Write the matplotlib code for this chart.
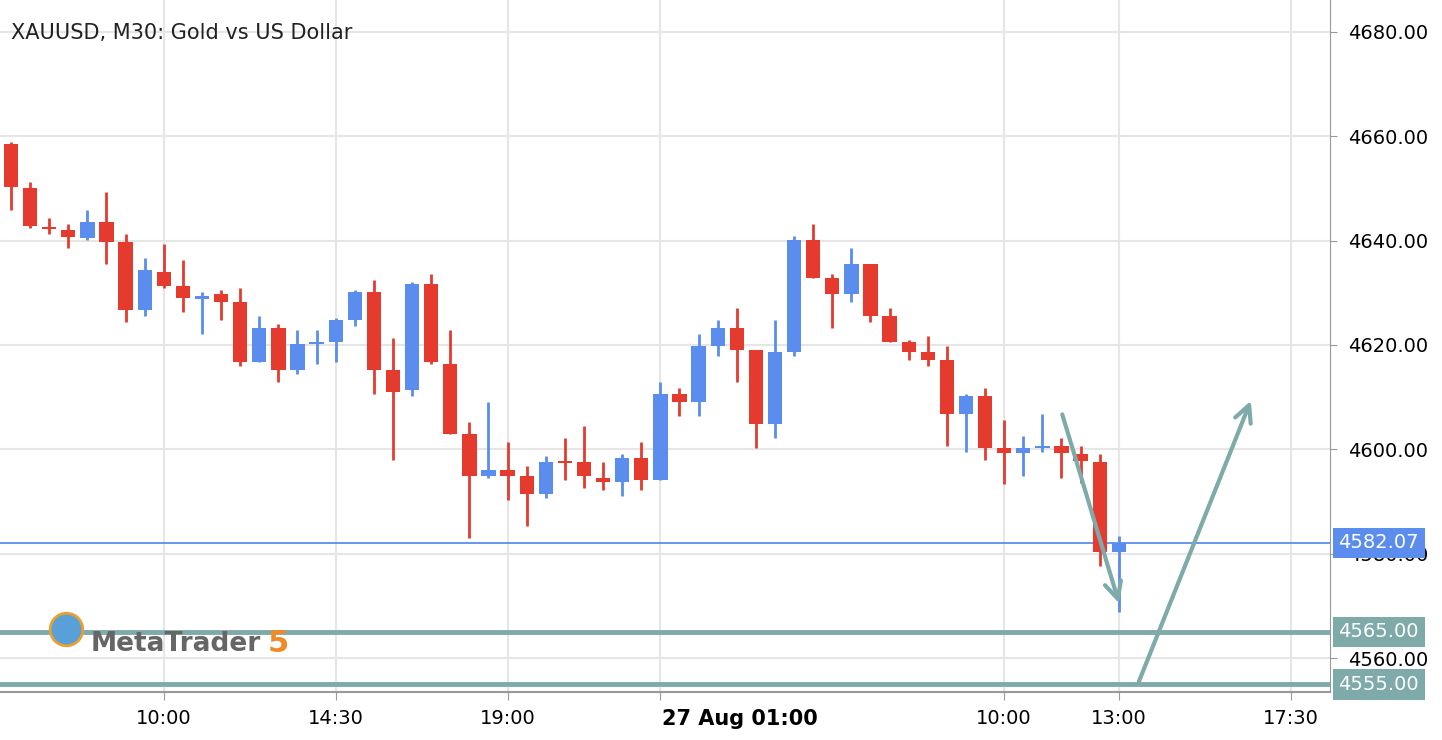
import numpy as np
import matplotlib.pyplot as plt

# OHLC, 30 minute candles, 26 Aug 06:00 .. 27 Aug 13:00
opens = [4658.5, 4650.1, 4642.6, 4642.0, 4640.5, 4643.6, 4639.7, 4626.7, 4634.0, 4631.3,
         4628.8, 4629.8, 4628.2, 4616.7, 4623.3, 4615.2, 4620.2, 4620.6, 4624.8, 4630.2,
         4615.2, 4611.4, 4631.7, 4616.4, 4603.0, 4594.9, 4596.0, 4594.9, 4591.4, 4597.6,
         4597.6, 4594.5, 4593.7, 4598.3, 4594.1, 4610.6, 4609.1, 4619.8, 4623.3, 4619.0,
         4604.9, 4618.7, 4640.1, 4632.8, 4629.8, 4635.5, 4625.6, 4620.6, 4618.7, 4617.1,
         4606.8, 4610.2, 4600.3, 4599.3, 4600.3, 4600.6, 4599.1, 4597.6, 4580.3]
highs = [4658.9, 4651.2, 4644.3, 4643.2, 4645.9, 4649.3, 4641.3, 4636.7, 4639.4, 4636.3,
         4630.2, 4630.5, 4630.9, 4625.6, 4624.0, 4622.9, 4622.9, 4625.2, 4630.5, 4632.5,
         4621.3, 4632.1, 4633.6, 4622.9, 4605.2, 4609.1, 4601.4, 4596.8, 4598.7, 4602.2,
         4604.5, 4597.6, 4599.1, 4601.4, 4612.9, 4611.8, 4622.1, 4624.8, 4627.1, 4619.0,
         4624.8, 4640.9, 4643.2, 4633.6, 4638.6, 4635.5, 4627.1, 4621.0, 4621.7, 4619.8,
         4610.6, 4611.8, 4605.6, 4602.6, 4606.8, 4602.2, 4600.6, 4599.1, 4583.4]
lows = [4645.9, 4642.4, 4641.3, 4638.6, 4640.1, 4635.5, 4624.4, 4625.6, 4630.9, 4626.3,
        4622.1, 4624.8, 4616.0, 4616.7, 4612.9, 4614.4, 4616.4, 4616.7, 4623.6, 4610.6,
        4598.0, 4610.2, 4616.4, 4603.0, 4583.0, 4594.5, 4590.3, 4585.3, 4590.7, 4594.1,
        4592.6, 4592.2, 4591.1, 4592.2, 4594.1, 4606.4, 4606.4, 4617.9, 4612.9, 4600.3,
        4602.2, 4617.9, 4632.8, 4623.3, 4628.2, 4624.4, 4620.6, 4617.1, 4616.0, 4600.6,
        4599.5, 4598.0, 4593.4, 4594.9, 4599.5, 4594.5, 4593.6, 4577.6, 4568.8]
closes = [4650.3, 4642.8, 4642.2, 4640.7, 4643.6, 4639.7, 4626.7, 4634.4, 4631.3, 4629.0,
          4629.4, 4628.2, 4616.7, 4623.3, 4615.2, 4620.2, 4620.6, 4624.8, 4630.2, 4615.2,
          4611.0, 4631.7, 4616.7, 4603.0, 4594.9, 4596.0, 4594.9, 4591.4, 4597.6, 4597.4,
          4594.9, 4593.7, 4598.3, 4594.1, 4610.6, 4609.1, 4619.8, 4623.3, 4619.0, 4604.9,
          4618.7, 4640.1, 4632.8, 4629.8, 4635.5, 4625.6, 4620.6, 4618.7, 4617.1, 4606.8,
          4610.2, 4600.3, 4599.3, 4600.3, 4600.6, 4599.3, 4597.8, 4580.3, 4582.07]

time_ticks = [8, 17, 26, 34, 52, 58, 67]
time_labels = ["10:00", "14:30", "19:00", "27 Aug 01:00", "10:00", "13:00", "17:30"]
price_ticks = [4560, 4580, 4600, 4620, 4640, 4660, 4680]

last_price = 4582.07
levels = [4565.00, 4555.00]

# drawn arrows (candle index, price)
arrow_down = [(55.0, 4607.2), (58.06, 4570.0)]
arrow_up = [(59.0, 4555.0), (64.97, 4609.8)]

RED = "#e53b2f"
BLUE = "#5a8ded"
TEAL = "#7faaaa"

fig = plt.figure(figsize=(14.42, 7.40), dpi=100)
ax = fig.add_axes([0, 48/740, 1330/1442, 692/740])
ax.set_xlim(-0.576, 69.06)
ax.set_ylim(4553.5, 4686.1)

x = np.arange(len(opens))
o = np.array(opens); c = np.array(closes)
cols = [BLUE if cc >= oo else RED for oo, cc in zip(opens, closes)]
ax.vlines(x, lows, highs, colors=cols, linewidth=2, zorder=3)
body = np.maximum(np.abs(c - o), 0.4)
ax.bar(x, body, bottom=np.minimum(o, c), width=0.75, color=cols, zorder=3)

ax.grid(True, color="#e6e6e6", linewidth=1.5)
ax.set_axisbelow(True)
ax.set_xticks(time_ticks)
ax.set_xticklabels([])
for t, lab in zip(time_ticks, time_labels):
    if "Aug" in lab:
        ax.text(t + 0.1, -0.025, lab, transform=ax.get_xaxis_transform(), ha="left",
                va="top", fontsize=15, fontweight="bold")
    else:
        ax.text(t, -0.025, lab, transform=ax.get_xaxis_transform(), ha="center",
                va="top", fontsize=14)
ax.tick_params(axis="x", length=6, color="#999999")

ax.yaxis.tick_right()
ax.set_yticks(price_ticks)
ax.set_yticklabels(["%.2f" % p for p in price_ticks], fontsize=14)
ax.tick_params(axis="y", length=5, color="#999999", pad=8)
for s in ["top", "left"]:
    ax.spines[s].set_visible(False)
ax.spines["right"].set_color("#999999")
ax.spines["bottom"].set_color("#999999")
ax.spines["bottom"].set_linewidth(1.5)

ax.axhline(last_price, color=BLUE, linewidth=1.3, zorder=2)
for lv in levels:
    ax.axhline(lv, color=TEAL, linewidth=3.5, zorder=4)

def tag(y, txt, col):
    ax.annotate(txt, xy=(1.0, y), xycoords=("axes fraction", "data"), xytext=(6, 0),
                textcoords="offset points", ha="left", va="center", fontsize=14,
                color="white", annotation_clip=False,
                bbox=dict(boxstyle="square,pad=0.3", fc=col, ec="none"))

tag(last_price, "%.2f" % last_price, BLUE)
for lv in levels:
    tag(lv, "%.2f" % lv, TEAL)

for a in (arrow_down, arrow_up):
    ax.annotate("", xy=a[1], xytext=a[0], zorder=5,
                arrowprops=dict(arrowstyle="->,head_length=1.2,head_width=0.6",
                                color=TEAL, linewidth=3))

ax.text(0.008, 0.952, "XAUUSD, M30: Gold vs US Dollar", transform=ax.transAxes,
        fontsize=15, va="center", ha="left", color="#222222")

# MetaTrader logo
ax.text(0.068, 0.07, "MetaTrader", transform=ax.transAxes, fontsize=19,
        fontweight="bold", color="#666666", va="center", ha="left", zorder=6)
ax.text(0.201, 0.07, "5", transform=ax.transAxes, fontsize=22,
        fontweight="bold", color="#f08a24", va="center", ha="left", zorder=6)
ax.scatter([2.9], [4565.5], s=550, color="#5aa0d8", edgecolor="#e8a030",
           linewidth=2, zorder=6)

fig.savefig("out.png", dpi=100)
